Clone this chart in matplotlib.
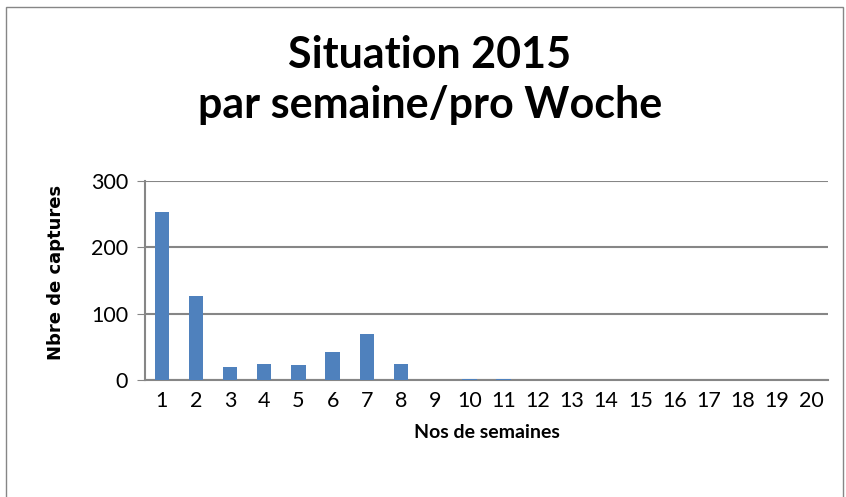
import matplotlib.pyplot as plt
from matplotlib.patches import Rectangle

weeks = [str(i) for i in range(1, 21)]
captures = [254, 126, 20, 24, 23, 42, 69, 24, 0, 1, 1, 0, 0, 0, 0, 0, 0, 0, 0, 0]

plt.rcParams['font.family'] = ['Lato', 'DejaVu Sans']

fig = plt.figure(figsize=(8.46, 4.97), dpi=100)
fig.patches.append(Rectangle((0.007, -0.05), 0.989, 1.036, transform=fig.transFigure,
                             fill=False, edgecolor='#868686', linewidth=1))

ax = fig.add_axes([0.171, 0.2354, 0.808, 0.4004])
ax.bar(range(len(weeks)), captures, width=0.42, color='#4F81BD', zorder=3)
ax.set_xlim(-0.5, len(weeks) - 0.5)
ax.set_ylim(0, 300)
ax.set_yticks([0, 100, 200, 300])
ax.set_xticks(range(len(weeks)))
ax.set_xticklabels(weeks)
ax.grid(axis='y', color='#868686', linewidth=1.5, zorder=0)
for s in ['top', 'right']:
    ax.spines[s].set_visible(False)
for s in ['left', 'bottom']:
    ax.spines[s].set_color('#868686')
    ax.spines[s].set_linewidth(1.5)
ax.tick_params(axis='y', length=6, color='#868686', labelsize=15.5, pad=6)
ax.tick_params(axis='x', length=0, labelsize=15.5, pad=8)
ax.set_xlabel('Nos de semaines', fontsize=14, fontweight='bold', labelpad=9)
ax.set_ylabel('Nbre de captures', fontsize=13, fontweight='bold',
              family=['DejaVu Sans'])
ax.yaxis.set_label_coords(-0.117, 0.54)

fig.text(0.508, 0.89, 'Situation 2015', ha='center', va='center',
         fontsize=31, fontweight='bold')
fig.text(0.508, 0.788, 'par semaine/pro Woche', ha='center', va='center',
         fontsize=31, fontweight='bold')

fig.savefig('out.png', dpi=100)
